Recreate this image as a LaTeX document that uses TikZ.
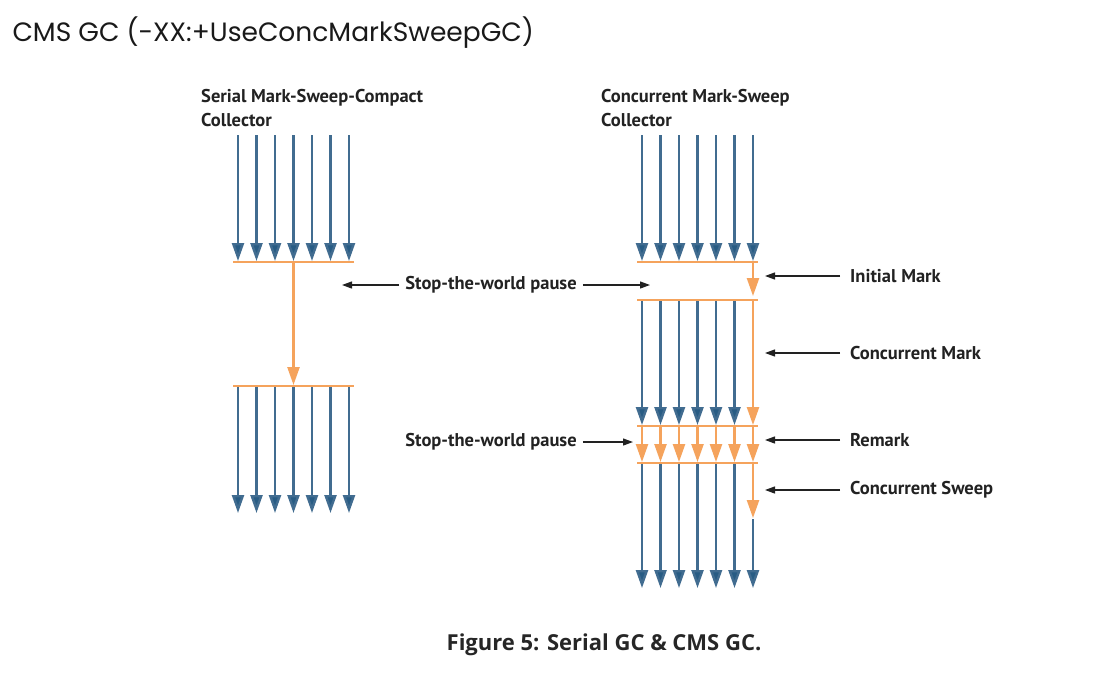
\documentclass[tikz,border=0pt]{standalone}
\usepackage{fontspec}
\setmainfont{PT Sans}
\newfontfamily\titlefont{Poppins}
\newfontfamily\capfont{Open Sans}
\usetikzlibrary{arrows.meta,positioning}
\definecolor{threadblue}{HTML}{416C90}
\definecolor{tipblue}{HTML}{285C84}
\definecolor{gcorange}{HTML}{F5A35C}
\definecolor{pointgray}{HTML}{222222}

\begin{document}
\begin{tikzpicture}[x=1pt,y=-1pt,
    thread/.style={draw=threadblue, line width=2.4pt, shorten >=1pt, -{Triangle[length=18pt,width=12pt,fill=tipblue]}},
    gcthread/.style={draw=gcorange, line width=2.4pt, shorten >=1pt, -{Triangle[length=18pt,width=12pt]}},
    gcbar/.style={draw=gcorange, line width=1.8pt},
    pointer/.style={draw=pointgray, line width=1.2pt, -{Triangle[length=10pt,width=7pt]}},
    phase/.style={font=\bfseries\fontsize{18.5}{24}\selectfont, text=pointgray, inner sep=0pt}]
    \useasboundingbox[fill=white] (0,0) rectangle (1109,686);
    % headings
    \node[anchor=west, font=\titlefont\fontsize{26.5}{30}\selectfont, text=black!90] (title) at (9,33) {CMS GC (-XX:+UseConcMarkSweepGC)};
    \node[phase, anchor=north west, align=left] (serial head) at (201,89) {Serial Mark-Sweep-Compact\\Collector};
    \node[phase, anchor=north west, align=left] (conc head) at (601,89) {Concurrent Mark-Sweep\\Collector};
    \node[font=\capfont\bfseries\fontsize{22}{26}\selectfont, text=black!85] (caption) at (604,645) {Figure 5: Serial GC \& CMS GC.};
    % serial collector
    \foreach \i in {1,...,7} \coordinate (st\i) at ({219.5+18.5*\i},135);
    \coordinate (sbar1w) at (233,262); \coordinate (sbar1e) at (354,262);
    \coordinate (sbar2w) at (233,386); \coordinate (sbar2e) at (354,386);
    \coordinate (send) at (233,514);
    \foreach \i in {1,...,7} {
        \draw[thread] (st\i) -- (st\i |- sbar1w);
        \draw[thread] (st\i |- sbar2w) -- (st\i |- send);
    }
    \draw[gcthread] (st4 |- sbar1w) -- (st4 |- sbar2w);
    \draw[gcbar] (sbar1w) -- (sbar1e);
    \draw[gcbar] (sbar2w) -- (sbar2e);
    % concurrent collector
    \foreach \i in {1,...,7} \coordinate (ct\i) at ({623.5+18.5*\i},135);
    \foreach \n/\y in {1/262,2/300,3/426,4/463} {
        \coordinate (cbar\n w) at (637,\y); \coordinate (cbar\n e) at (758,\y);
    }
    \coordinate (csweep) at (637,519);
    \coordinate (cend) at (637,589);
    \foreach \i in {1,...,7} {
        \draw[thread] (ct\i) -- (ct\i |- cbar1w);
        \draw[gcthread] (ct\i |- cbar3w) -- (ct\i |- cbar4w);
    }
    \foreach \i in {1,...,6} {
        \draw[thread] (ct\i |- cbar2w) -- (ct\i |- cbar3w);
        \draw[thread] (ct\i |- cbar4w) -- (ct\i |- cend);
    }
    \draw[thread] (ct7 |- csweep) -- (ct7 |- cend);
    \draw[gcthread] (ct7 |- cbar1w) -- ([yshift=3pt]ct7 |- cbar2w);
    \draw[gcthread] (ct7 |- cbar2w) -- (ct7 |- cbar3w);
    \draw[gcthread] (ct7 |- cbar4w) -- (ct7 |- csweep);
    \foreach \n in {1,...,4} \draw[gcbar] (cbar\n w) -- (cbar\n e);
    % pauses
    \node[phase] (stw1) at (491,285) {Stop-the-world pause};
    \node[phase] (stw2) at (491,442) {Stop-the-world pause};
    \draw[pointer] ([xshift=-6pt]stw1.west) -- ([xshift=-7pt]stw1.west -| st7);
    \draw[pointer] ([xshift=6pt]stw1.east) -- ([xshift=8pt]stw1.east -| ct1);
    \draw[pointer] ([xshift=6pt]stw2.east) -- ([xshift=-9pt]stw2.east -| ct1);
    % phases
    \node[phase, anchor=west] (initial) at (850,276) {Initial Mark};
    \node[phase, anchor=west] (mark) at (850,353) {Concurrent Mark};
    \node[phase, anchor=west] (remark) at (850,440) {Remark};
    \node[phase, anchor=west] (sweep) at (850,490) {Concurrent Sweep};
    \foreach \p in {initial,mark,remark,sweep}
        \draw[pointer] ([xshift=-10pt]\p.west) -- ([xshift=12pt]\p.west -| ct7);
\end{tikzpicture}
\end{document}
